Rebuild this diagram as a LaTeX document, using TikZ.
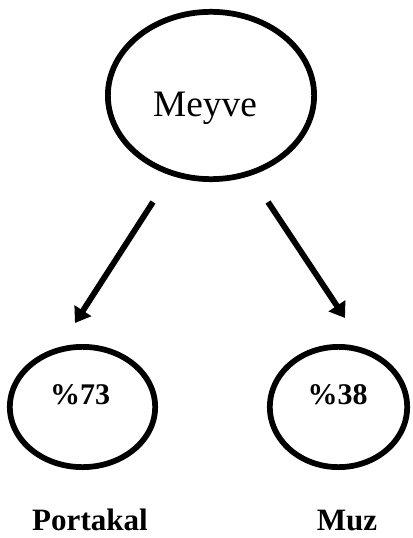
\documentclass[tikz,border=0pt]{standalone}
\usepackage{fontspec}
\setmainfont{Liberation Serif}
\usetikzlibrary{shapes.geometric,arrows.meta}
\begin{document}
\begin{tikzpicture}[x=0.75pt,y=-0.75pt,
  bubble/.style={draw=black,line width=4.3pt,ellipse,inner sep=0pt},
  link/.style={line width=4.4pt,-{Triangle[length=11pt,width=14.5pt]}},
  title/.style={font=\fontsize{28}{32}\selectfont,anchor=base,inner sep=0pt},
  pct/.style={font=\bfseries\fontsize{22.5}{26}\selectfont,anchor=base,inner sep=0pt},
  caption/.style={font=\bfseries\fontsize{23.3}{27}\selectfont,anchor=base,inner sep=0pt}]
\useasboundingbox (0,0) rectangle (412,538);

% main node
\node[bubble,minimum width=154.7pt,minimum height=125.5pt] (fruit) at (211,95.5) {};
\node[title] (fruitname) at (205,117) {Meyve};

% child nodes
\node[bubble,minimum width=109pt,minimum height=90.2pt] (orange) at (82.5,407) {};
\node[bubble,minimum width=103pt,minimum height=90.2pt] (banana) at (338.5,407) {};
\node[pct] (orangepct) at (80,404) {\%73};
\node[pct] (bananapct) at (337.5,404) {\%38};

% captions
\node[caption] (orangename) at (90,530) {Portakal};
\node[caption] (banananame) at (347,530) {Muz};

% arrows
\coordinate (lstart) at (153,202);
\coordinate (lend) at (75,323);
\coordinate (rstart) at (268,202);
\coordinate (rend) at (345,318);
\draw[link] (lstart) -- (lend);
\draw[link] (rstart) -- (rend);
\end{tikzpicture}
\end{document}
